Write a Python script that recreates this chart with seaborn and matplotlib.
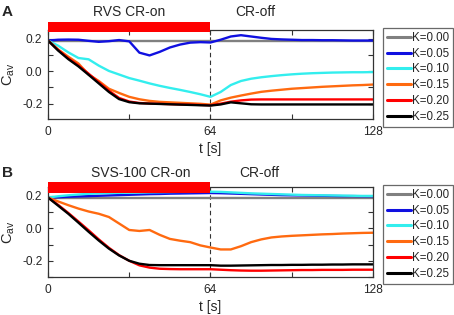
import numpy as np
import pandas as pd
import seaborn as sns
import matplotlib.pyplot as plt
from matplotlib.ticker import MultipleLocator
from matplotlib.patches import Rectangle
import matplotlib.transforms as mtransforms

# time grid (s)
t = [0, 4, 8, 12, 16, 20, 24, 28, 32, 36, 40, 44, 48, 52, 56, 60, 64,
     68, 72, 76, 80, 84, 88, 92, 96, 100, 104, 108, 112, 116, 120, 124, 128]

k_labels = ['K=0.00', 'K=0.05', 'K=0.10', 'K=0.15', 'K=0.20', 'K=0.25']
colors = ['#808080', '#1010e0', '#33eeee', '#ff6a10', '#ff0000', '#000000']

# panel A : RVS
a_k000 = [0.19] * 33
a_k005 = [0.19, 0.195, 0.196, 0.195, 0.188, 0.182, 0.186, 0.193, 0.185, 0.115, 0.098,
          0.12, 0.147, 0.165, 0.177, 0.18, 0.178, 0.195, 0.215, 0.223, 0.215, 0.207,
          0.2, 0.197, 0.195, 0.193, 0.193, 0.192, 0.192, 0.191, 0.19, 0.19, 0.19]
a_k010 = [0.19, 0.158, 0.117, 0.082, 0.074, 0.035, 0.002, -0.02, -0.042, -0.058, -0.075,
          -0.09, -0.103, -0.115, -0.128, -0.142, -0.158, -0.128, -0.085, -0.06, -0.046,
          -0.037, -0.03, -0.024, -0.019, -0.015, -0.012, -0.01, -0.008, -0.007, -0.006,
          -0.006, -0.005]
a_k015 = [0.19, 0.135, 0.09, 0.048, -0.02, -0.06, -0.108, -0.134, -0.158, -0.173, -0.183,
          -0.189, -0.192, -0.195, -0.198, -0.201, -0.206, -0.18, -0.163, -0.15, -0.138,
          -0.127, -0.12, -0.114, -0.108, -0.104, -0.1, -0.096, -0.093, -0.09, -0.087,
          -0.085, -0.082]
a_k020 = [0.19, 0.132, 0.08, 0.036, -0.015, -0.068, -0.12, -0.165, -0.187, -0.196, -0.199,
          -0.201, -0.203, -0.205, -0.206, -0.208, -0.21, -0.2, -0.188, -0.18, -0.175,
          -0.174, -0.174, -0.174, -0.174, -0.174, -0.174, -0.174, -0.174, -0.174, -0.174,
          -0.174, -0.174]
a_k025 = [0.19, 0.128, 0.075, 0.03, -0.022, -0.075, -0.128, -0.172, -0.191, -0.198, -0.2,
          -0.202, -0.204, -0.206, -0.208, -0.21, -0.212, -0.205, -0.192, -0.198, -0.204,
          -0.205, -0.205, -0.205, -0.205, -0.205, -0.205, -0.205, -0.205, -0.205, -0.205,
          -0.205, -0.205]

# panel B : SVS-100
b_k000 = [0.187] * 33
b_k005 = [0.19, 0.192, 0.195, 0.197, 0.199, 0.201, 0.203, 0.205, 0.207, 0.209, 0.211,
          0.212, 0.214, 0.215, 0.216, 0.217, 0.218, 0.217, 0.215, 0.213, 0.211, 0.209,
          0.207, 0.205, 0.204, 0.203, 0.202, 0.201, 0.2, 0.199, 0.199, 0.198, 0.198]
b_k010 = [0.19, 0.198, 0.204, 0.209, 0.213, 0.216, 0.218, 0.219, 0.22, 0.221, 0.222,
          0.223, 0.224, 0.225, 0.225, 0.226, 0.226, 0.225, 0.222, 0.219, 0.216, 0.214,
          0.212, 0.21, 0.208, 0.206, 0.205, 0.204, 0.203, 0.202, 0.201, 0.2, 0.2]
b_k015 = [0.19, 0.166, 0.143, 0.122, 0.104, 0.09, 0.07, 0.03, -0.01, -0.016, -0.01,
          -0.04, -0.065, -0.076, -0.085, -0.105, -0.118, -0.13, -0.13, -0.11, -0.085,
          -0.068, -0.056, -0.05, -0.046, -0.043, -0.04, -0.037, -0.035, -0.032, -0.03,
          -0.028, -0.027]
b_k020 = [0.19, 0.145, 0.095, 0.042, -0.012, -0.068, -0.12, -0.165, -0.2, -0.228, -0.242,
          -0.249, -0.251, -0.252, -0.252, -0.252, -0.252, -0.255, -0.258, -0.26, -0.261,
          -0.261, -0.26, -0.259, -0.258, -0.257, -0.257, -0.256, -0.256, -0.256, -0.255,
          -0.255, -0.255]
b_k025 = [0.19, 0.14, 0.09, 0.035, -0.021, -0.075, -0.125, -0.167, -0.2, -0.218, -0.226,
          -0.227, -0.227, -0.227, -0.227, -0.227, -0.227, -0.23, -0.23, -0.229, -0.228,
          -0.227, -0.226, -0.226, -0.225, -0.225, -0.224, -0.224, -0.223, -0.223, -0.222,
          -0.222, -0.222]

panels = [
    ('A', 'RVS CR-on', 32, 81.5, [a_k000, a_k005, a_k010, a_k015, a_k020, a_k025],
     (-0.295, 0.255), 1.20, (0.974, 0.119)),
    ('B', 'SVS-100 CR-on', 36.5, 83.3, [b_k000, b_k005, b_k010, b_k015, b_k020, b_k025],
     (-0.30, 0.255), 1.152, (0.933, 0.122)),
]

sns.set_style('ticks')
plt.rcParams['font.family'] = ['Liberation Sans', 'DejaVu Sans']
plt.rcParams['mathtext.fontset'] = 'custom'
plt.rcParams['mathtext.rm'] = 'Liberation Sans'
plt.rcParams['mathtext.it'] = 'Liberation Sans'

fig = plt.figure(figsize=(4.54, 3.15), dpi=100)
axes = [fig.add_axes([0.1057, 0.6222, 0.7159, 0.2825]),
        fig.add_axes([0.1057, 0.1206, 0.7159, 0.2857])]

for ax, (letter, title, tx_on, tx_off, series, ylim, ty, bar) in zip(axes, panels):
    df = pd.DataFrame({
        't': t * len(series),
        'C': sum(series, []),
        'K': sum([[k] * len(t) for k in k_labels], []),
    })
    sns.lineplot(data=df, x='t', y='C', hue='K', palette=colors, ax=ax,
                 linewidth=1.7, legend=True)
    ax.set_xlim(0, 128)
    ax.set_ylim(*ylim)
    ax.set_xticks([0, 64, 128])
    ax.xaxis.set_minor_locator(MultipleLocator(32))
    ax.set_yticks([-0.2, 0.0, 0.2])
    ax.set_yticklabels(['-0.2', '0.0', '0.2'])
    ax.yaxis.set_minor_locator(MultipleLocator(0.1))
    ax.tick_params(which='both', direction='in', top=True, right=True,
                   length=3.5, width=0.8, color='#333333', labelsize=8.6, pad=4)
    ax.tick_params(axis='x', pad=5)
    for sp in ax.spines.values():
        sp.set_color('#333333')
        sp.set_linewidth(0.9)
    ax.set_xlabel('t [s]', fontsize=10, labelpad=3)
    ax.set_ylabel(r'C$_{\rm av}$', fontsize=10.5)
    ax.yaxis.set_label_coords(-0.095, 0.5)

    ax.axvline(64, color='#333333', linestyle=(0, (4, 3)), linewidth=0.8, zorder=1)
    trans = mtransforms.blended_transform_factory(ax.transData, ax.transAxes)
    ax.add_patch(Rectangle((0, bar[0]), 64, bar[1], transform=trans,
                           facecolor='#ff0000', edgecolor='none', clip_on=False, zorder=5))
    ax.text(tx_on, ty, title, transform=trans, ha='center', va='center', fontsize=10)
    ax.text(tx_off, ty, 'CR-off', transform=trans, ha='center', va='center', fontsize=10)
    ax.text(-0.142, ty, letter, transform=ax.transAxes, ha='left', va='center',
            fontsize=11, fontweight='bold')

    leg = ax.legend(loc='upper left', bbox_to_anchor=(1.03, 1.025), fontsize=8.3,
                    handlelength=2.1, handletextpad=0.05, labelspacing=0.33,
                    borderpad=0.35, borderaxespad=0, frameon=True, fancybox=False,
                    title=None)
    leg.get_frame().set_edgecolor('#444444')
    leg.get_frame().set_linewidth(0.9)
    for line in leg.get_lines():
        line.set_linewidth(2.2)

fig.savefig('out.png', dpi=100)
